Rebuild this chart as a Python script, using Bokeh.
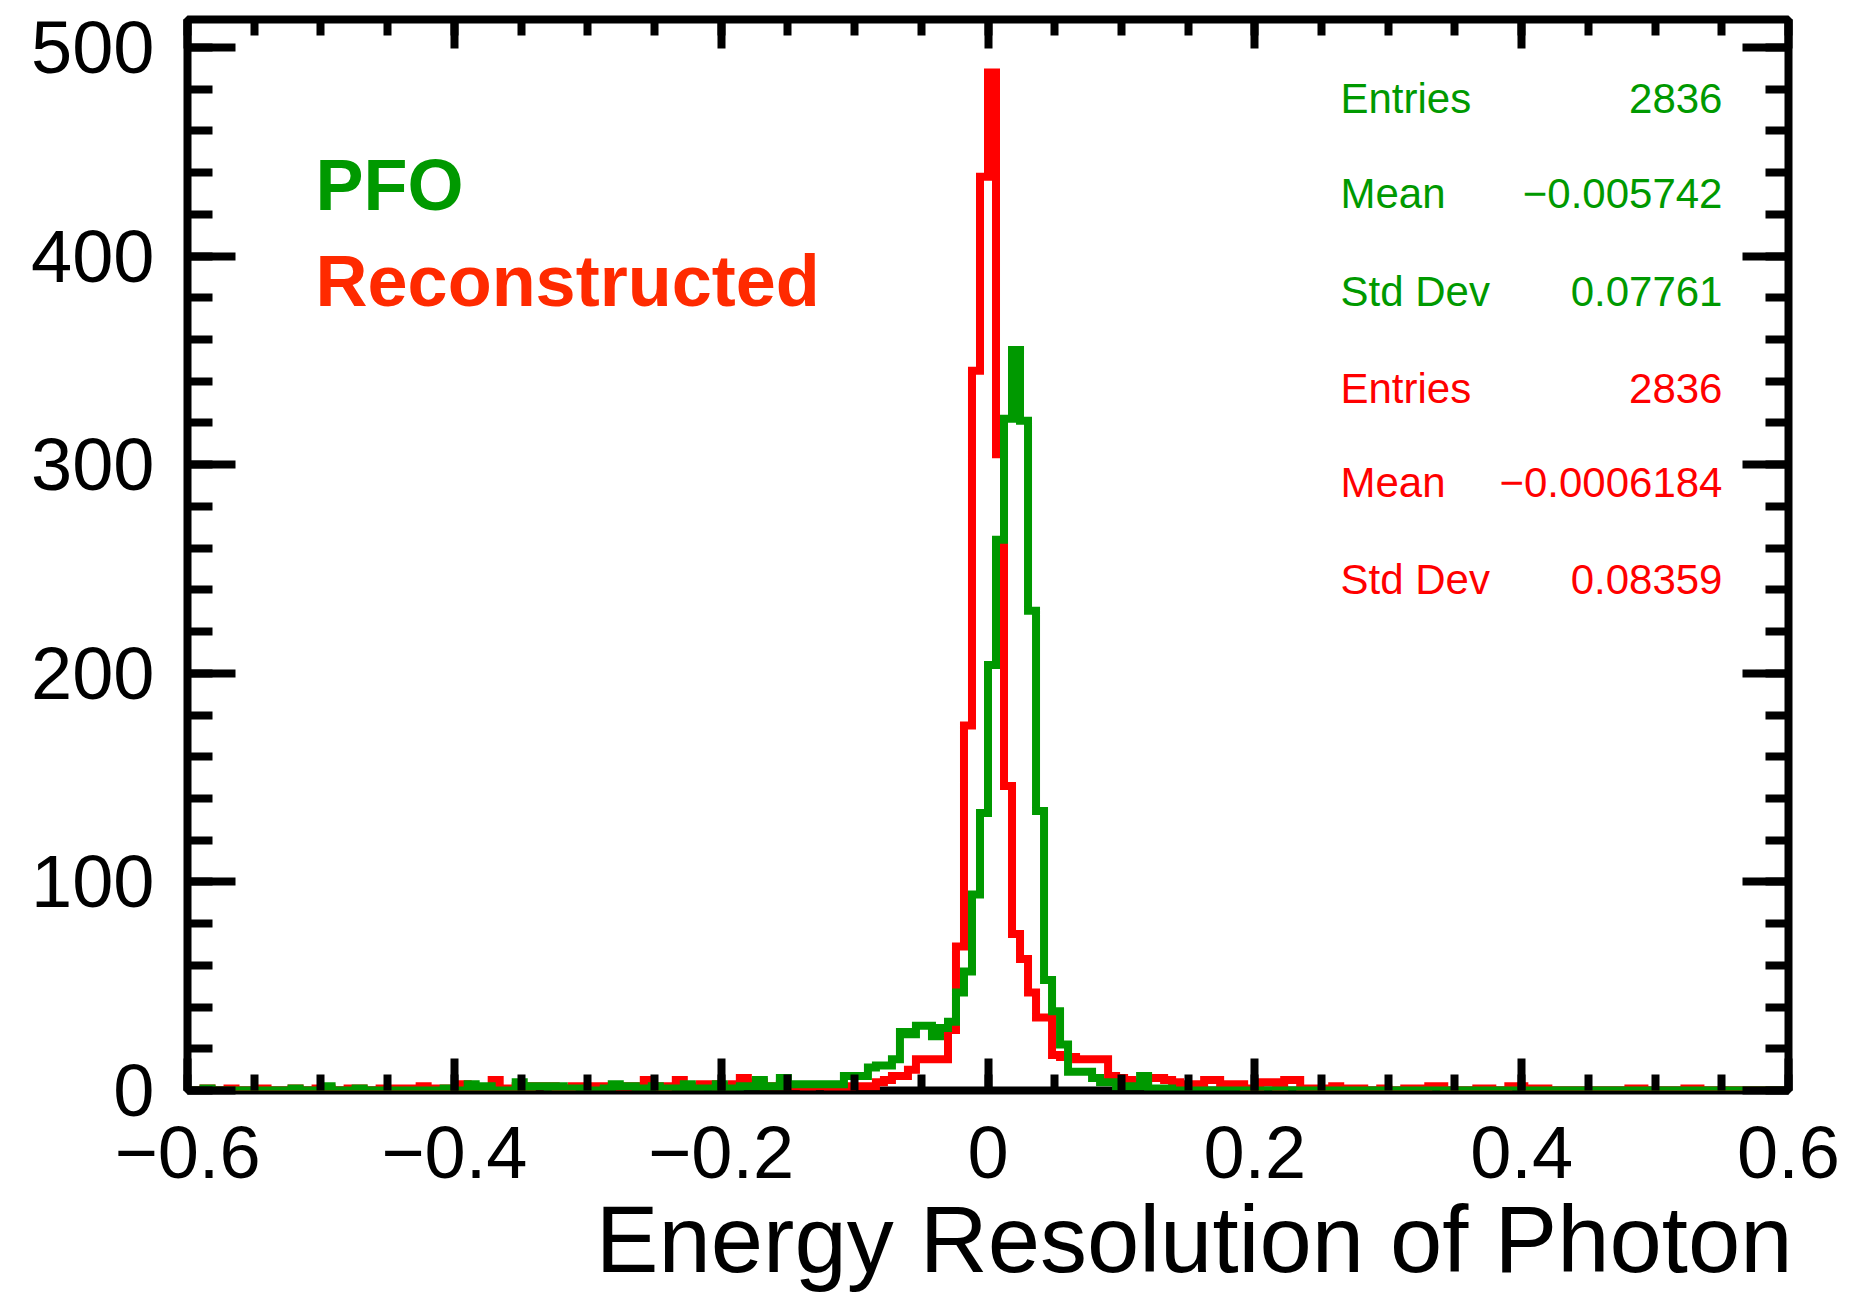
import numpy as np
from bokeh.plotting import figure
from bokeh.models import (Range1d, LinearAxis, SingleIntervalTicker, FixedTicker,
                          CustomJSTickFormatter, Label, Title)
from bokeh.embed import file_html
from bokeh.resources import INLINE

# ---------------- data ----------------
x_min, x_max, n_bins = -0.6, 0.6, 200

# Reconstructed (red) bin contents, 200 bins from -0.6 to 0.6
reco = [0, 0, 1, 0, 0, 1, 0, 0, 0, 1,
        0, 0, 0, 1, 0, 0, 1, 1, 0, 0,
        1, 1, 0, 0, 1, 0, 1, 1, 1, 2,
        1, 1, 1, 1, 3, 1, 1, 1, 5, 1,
        1, 2, 1, 2, 2, 2, 1, 1, 2, 2,
        2, 2, 2, 2, 1, 2, 2, 5, 2, 1,
        2, 5, 2, 2, 3, 3, 2, 2, 3, 6,
        3, 4, 2, 2, 3, 2, 2, 1, 2, 2,
        1, 2, 1, 2, 2, 2, 4, 5, 7, 7,
        10, 15, 15, 15, 15, 29, 69, 175, 345, 438,
        488, 305, 146, 75, 63, 47, 35, 35, 17, 16,
        16, 15, 15, 15, 15, 7, 6, 5, 4, 4,
        6, 6, 5, 4, 3, 3, 3, 5, 5, 3,
        3, 3, 1, 1, 4, 4, 1, 5, 5, 1,
        1, 0, 1, 2, 0, 1, 1, 0, 0, 1,
        0, 0, 1, 0, 1, 2, 2, 0, 0, 0,
        0, 1, 1, 0, 0, 2, 2, 0, 1, 1,
        0, 0, 0, 0, 0, 0, 0, 0, 0, 0,
        1, 1, 0, 0, 0, 0, 0, 1, 1, 0,
        0, 0, 0, 0, 0, 0, 0, 0, 0, 0]

# PFO (green) bin contents
pfo = [0, 0, 1, 0, 0, 0, 0, 0, 0, 0,
       0, 0, 0, 1, 0, 0, 0, 2, 0, 0,
       0, 1, 0, 0, 0, 0, 0, 0, 0, 0,
       0, 0, 1, 0, 0, 3, 0, 2, 0, 0,
       0, 4, 0, 2, 2, 1, 2, 1, 1, 0,
       0, 0, 1, 3, 2, 2, 1, 1, 2, 1,
       0, 1, 3, 1, 0, 1, 3, 1, 1, 2,
       2, 5, 2, 2, 6, 3, 3, 3, 3, 3,
       3, 3, 7, 7, 7, 11, 12, 12, 15, 28,
       27, 31, 31, 26, 30, 33, 47, 57, 94, 133,
       204, 264, 322, 355, 321, 230, 134, 53, 38, 22,
       9, 9, 9, 6, 4, 4, 2, 2, 2, 7,
       1, 1, 1, 0, 0, 0, 0, 0, 0, 0,
       0, 0, 0, 0, 0, 0, 0, 0, 0, 0,
       0, 0, 0, 0, 0, 0, 0, 0, 0, 0,
       0, 0, 0, 0, 0, 0, 0, 0, 0, 0,
       0, 0, 0, 0, 0, 0, 0, 0, 0, 0,
       0, 0, 0, 0, 0, 0, 0, 0, 0, 0,
       0, 0, 0, 0, 0, 0, 0, 0, 0, 0,
       0, 0, 0, 0, 0, 0, 0, 0, 0, 0]

stat_names = ["Entries", "Mean", "Std Dev"]
pfo_stats = ["2836", "\u22120.005742", "0.07761"]
reco_stats = ["2836", "\u22120.0006184", "0.08359"]
legend_names = ["PFO", "Reconstructed"]
x_title = "Energy Resolution of Photon"
x_major = [-0.6, -0.4, -0.2, 0.0, 0.2, 0.4, 0.6]
x_minor = [round(-0.6 + 0.05 * k, 2) for k in range(25)]

y_top = 513.4

GREEN = "#009900"
RED = "#ff0000"
FONT = "Liberation Sans"

edges = np.linspace(x_min, x_max, n_bins + 1)

p = figure(width=1853, height=1295,
           x_range=Range1d(x_min, x_max), y_range=Range1d(0, y_top),
           output_backend="svg", toolbar_location=None,
           min_border_left=187, min_border_right=65,
           min_border_top=19, min_border_bottom=205)
p.xgrid.visible = False
p.ygrid.visible = False
p.outline_line_color = "black"
p.outline_line_width = 8
p.background_fill_color = "white"
p.border_fill_color = "white"

x_fmt = CustomJSTickFormatter(code="""
if (Math.abs(tick) < 1e-9) { return "0"; }
var s = Math.abs(tick).toFixed(1);
return (tick < 0 ? "\\u2212" : "") + s;
""")
blank_fmt = CustomJSTickFormatter(code="return '';")


def style_axis(ax, major_in, minor_in, show_labels, standoff=0):
    ax.axis_line_color = None
    ax.major_tick_in = major_in
    ax.major_tick_out = 0
    ax.minor_tick_in = minor_in
    ax.minor_tick_out = 0
    ax.major_tick_line_width = 8
    ax.minor_tick_line_width = 8
    ax.major_tick_line_color = "black"
    ax.minor_tick_line_color = "black"
    ax.major_tick_line_cap = "butt"
    ax.minor_tick_line_cap = "butt"
    if show_labels:
        ax.major_label_text_font = FONT
        ax.major_label_text_font_size = "74px"
        ax.major_label_text_color = "black"
        ax.major_label_standoff = standoff
    else:
        ax.formatter = blank_fmt
        ax.major_label_text_font_size = "1px"
        ax.major_label_text_color = None
        ax.major_label_standoff = 0


xb = p.xaxis[0]
xb.ticker = FixedTicker(ticks=x_major, minor_ticks=x_minor)
xb.formatter = x_fmt
style_axis(xb, 32, 16, True, 36)

yl = p.yaxis[0]
yl.ticker = SingleIntervalTicker(interval=100, num_minor_ticks=5)
style_axis(yl, 48, 25, True, 33)

xt = LinearAxis(ticker=FixedTicker(ticks=x_major, minor_ticks=x_minor))
style_axis(xt, 29, 16, False)
p.add_layout(xt, "above")

yr = LinearAxis(ticker=SingleIntervalTicker(interval=100, num_minor_ticks=5))
style_axis(yr, 46, 23, False)
p.add_layout(yr, "right")

# x-axis title, right aligned under the frame
p.add_layout(Title(text=x_title, align="right", text_font=FONT,
                   text_font_size="94px", text_font_style="normal",
                   text_color="black", standoff=8, offset=-4), "below")

# histograms
p.step(list(edges), reco + [reco[-1]], mode="after", line_color=RED,
       line_width=8, line_join="miter")
p.step(list(edges), pfo + [pfo[-1]], mode="after", line_color=GREEN,
       line_width=8, line_join="miter")

# legend-like labels
p.add_layout(Label(x=-0.504, y=433.9, text=legend_names[0], text_font=FONT,
                   text_font_size="72px", text_font_style="bold",
                   text_color=GREEN, text_align="left",
                   text_baseline="alphabetic"))
p.add_layout(Label(x=-0.504, y=388.0, text=legend_names[1], text_font=FONT,
                   text_font_size="72px", text_font_style="bold",
                   text_color="#ff2a00", text_align="left",
                   text_baseline="alphabetic"))

# stats boxes
row_y = [475.6, 430.0, 383.1, 336.6, 291.5, 245.0]
rows = ([(n, v, GREEN) for n, v in zip(stat_names, pfo_stats)] +
        [(n, v, RED) for n, v in zip(stat_names, reco_stats)])
for (name, val, col), yy in zip(rows, row_y):
    p.add_layout(Label(x=0.2642, y=yy, text=name, text_font=FONT,
                       text_font_size="42px", text_color=col,
                       text_align="left", text_baseline="alphabetic"))
    p.add_layout(Label(x=0.5505, y=yy, text=val, text_font=FONT,
                       text_font_size="42px", text_color=col,
                       text_align="right", text_baseline="alphabetic"))

open("out.html", "w", encoding="utf-8").write(file_html(p, INLINE))
